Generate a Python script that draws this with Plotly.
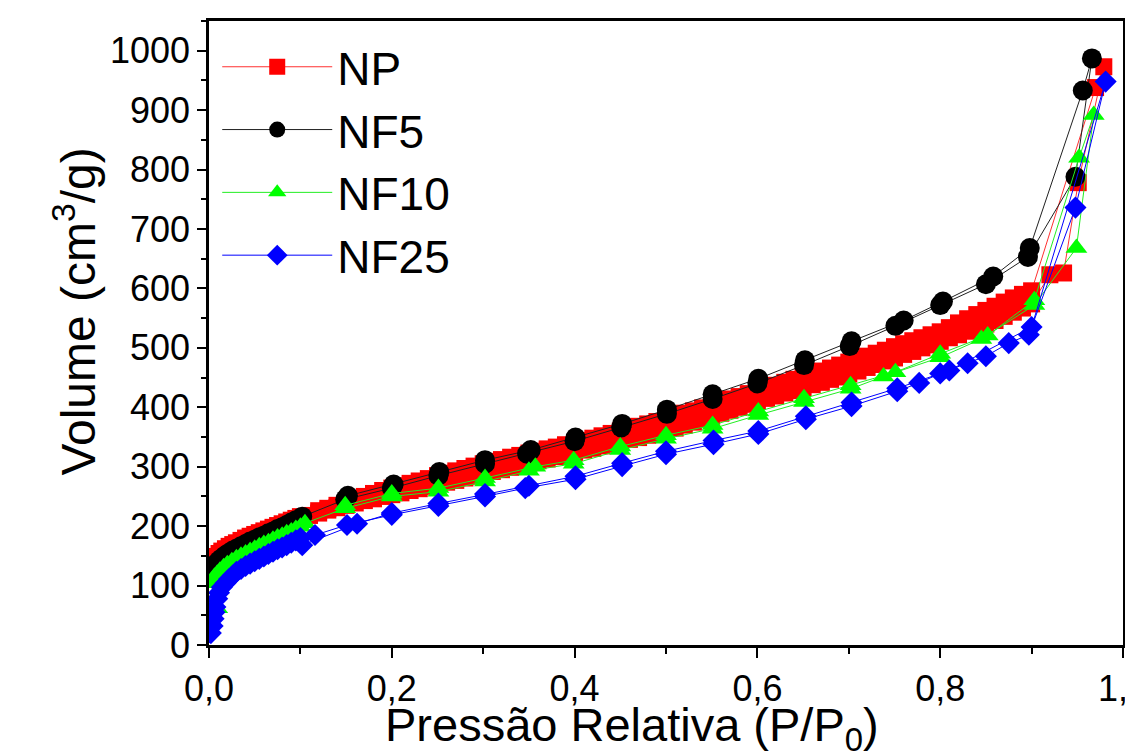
import plotly.graph_objects as go

# N2 adsorption / desorption isotherms (relative pressure P/P0 vs. adsorbed volume, cm3/g)

# NP
np_ads_p = [0.001, 0.003, 0.005, 0.008, 0.011, 0.014, 0.018, 0.022, 0.026, 0.030,
            0.035, 0.040, 0.045, 0.050, 0.055, 0.060, 0.065, 0.070, 0.075, 0.080,
            0.085, 0.090, 0.095, 0.100,
            0.11, 0.12, 0.13, 0.14, 0.15, 0.16, 0.17, 0.18, 0.19, 0.20,
            0.21, 0.22, 0.23, 0.24, 0.25, 0.26, 0.27, 0.28, 0.29, 0.30,
            0.31, 0.32, 0.33, 0.34, 0.35, 0.36, 0.37, 0.38, 0.39, 0.40,
            0.41, 0.42, 0.43, 0.44, 0.45, 0.46, 0.47, 0.48, 0.49, 0.50,
            0.51, 0.52, 0.53, 0.54, 0.55, 0.56, 0.57, 0.58, 0.59, 0.60,
            0.61, 0.62, 0.63, 0.64, 0.65, 0.66, 0.67, 0.68, 0.69, 0.70,
            0.71, 0.72, 0.73, 0.74, 0.75, 0.76, 0.77, 0.78, 0.79, 0.80,
            0.81, 0.82, 0.83, 0.84, 0.85, 0.86, 0.87, 0.88, 0.89, 0.90,
            0.92, 0.935, 0.951, 0.979]
np_ads_v = [128, 137, 143, 149, 154, 158, 162, 166, 169, 172,
            176, 180, 183, 186, 189, 192, 195, 198, 201, 204,
            207, 210, 213, 216,
            218, 222, 227, 231, 235, 239, 243, 246, 250, 253,
            256, 260, 263, 267, 270, 274, 277, 281, 284, 288,
            292, 295, 299, 302, 306, 310, 313, 317, 320, 324,
            328, 331, 335, 338, 342, 346, 349, 353, 356, 360,
            365, 370, 375, 380, 385, 390, 395, 400, 405, 410,
            415, 419, 424, 428, 433, 438, 442, 447, 451, 456,
            461, 467, 472, 478, 483, 489, 494, 500, 505, 511,
            517, 522, 528, 534, 540, 546, 553, 560, 567, 574,
            623, 626, 778, 973]
np_des_p = [0.970,
            0.90, 0.89, 0.88, 0.87, 0.86, 0.85, 0.84, 0.83, 0.82, 0.81,
            0.80, 0.79, 0.78, 0.77, 0.76, 0.75, 0.74, 0.73, 0.72, 0.71,
            0.70, 0.69, 0.68, 0.67, 0.66, 0.65, 0.64, 0.63, 0.62, 0.61,
            0.60, 0.59, 0.58, 0.57, 0.56, 0.55, 0.54, 0.53, 0.52, 0.51,
            0.50, 0.49, 0.48, 0.47, 0.46, 0.45, 0.44, 0.43, 0.42, 0.41,
            0.40, 0.39, 0.38, 0.37, 0.36, 0.35, 0.34, 0.33, 0.32, 0.31,
            0.30, 0.29, 0.28, 0.27, 0.26, 0.25, 0.24, 0.23, 0.22, 0.21,
            0.20, 0.19, 0.18, 0.17, 0.16, 0.15, 0.14, 0.13, 0.12]
np_des_v = [938,
            596, 590, 584, 577, 570, 563, 556, 549, 542, 534,
            527, 522, 517, 512, 507, 502, 496, 491, 486, 481,
            476, 471, 466, 461, 457, 452, 447, 442, 437, 433,
            428, 423, 418, 414, 409, 404, 399, 394, 390, 385,
            380, 376, 372, 368, 364, 360, 356, 352, 348, 344,
            340, 337, 333, 330, 326, 323, 319, 316, 312, 309,
            305, 301, 297, 293, 289, 285, 280, 276, 272, 268,
            264, 260, 255, 250, 245, 240, 235, 230, 226]

# NF5
nf5_ads_p = [0.001, 0.003, 0.005, 0.008, 0.011, 0.014, 0.018, 0.022, 0.026, 0.030,
             0.035, 0.040, 0.045, 0.050, 0.055, 0.060, 0.065, 0.070, 0.075, 0.080,
             0.085, 0.090, 0.095, 0.102,
             0.149, 0.200, 0.251, 0.302, 0.348, 0.400, 0.451, 0.501, 0.551, 0.600,
             0.651, 0.701, 0.751, 0.800, 0.850, 0.896, 0.948, 0.966]
nf5_ads_v = [116, 125, 131, 137, 142, 146, 151, 155, 159, 162,
             166, 170, 174, 177, 181, 184, 188, 191, 195, 198,
             202, 206, 210, 216,
             245, 264, 285, 305, 322, 343, 366, 389, 414, 440,
             471, 503, 537, 572, 607, 653, 788, 987]
nf5_des_p = [0.956, 0.898, 0.858, 0.803, 0.760, 0.703, 0.652, 0.601, 0.551,
             0.501, 0.452, 0.401, 0.352, 0.302, 0.252, 0.202, 0.152]
nf5_des_v = [933, 668, 620, 578, 546, 511, 479, 448, 422,
             396, 372, 349, 328, 311, 291, 270, 251]

# NF10
nf10_ads_p = [0.009, 0.002, 0.004, 0.006, 0.009, 0.012, 0.016, 0.020, 0.025, 0.030,
              0.035, 0.040, 0.045, 0.050, 0.055, 0.060, 0.065, 0.070, 0.075, 0.080,
              0.085, 0.090, 0.095, 0.100, 0.105,
              0.149, 0.200, 0.251, 0.302, 0.350, 0.399, 0.450, 0.500, 0.551, 0.601,
              0.651, 0.702, 0.738, 0.800, 0.845, 0.903, 0.949, 0.968]
nf10_ads_v = [62, 104, 110, 115, 120, 125, 131, 136, 141, 146,
              150, 154, 158, 162, 166, 170, 173, 177, 181, 184,
              188, 191, 195, 199, 205,
              230, 250, 258, 275, 293, 305, 328, 347, 364, 387,
              409, 431, 452, 484, 515, 572, 668, 892]
nf10_des_p = [0.952, 0.903, 0.852, 0.800, 0.751, 0.702, 0.651, 0.601, 0.551,
              0.500, 0.450, 0.399, 0.357, 0.302, 0.251, 0.200, 0.149]
nf10_des_v = [820, 580, 521, 490, 459, 437, 415, 393, 370,
              353, 334, 311, 300, 281, 264, 255, 235]

# NF25
nf25_ads_p = [0.002, 0.004, 0.005, 0.006, 0.007, 0.009, 0.011, 0.014, 0.018, 0.022,
              0.026, 0.030, 0.035, 0.040, 0.045, 0.050, 0.055, 0.060, 0.065, 0.070,
              0.075, 0.080, 0.085, 0.090, 0.095, 0.100,
              0.116, 0.151, 0.200, 0.251, 0.302, 0.346, 0.401, 0.452, 0.500, 0.552,
              0.601, 0.653, 0.703, 0.753, 0.777, 0.800, 0.830, 0.850, 0.875, 0.897,
              0.948, 0.981]
nf25_ads_v = [20, 32, 44, 55, 64, 78, 88, 97, 104, 111,
              117, 123, 128, 133, 137, 141, 145, 149, 153, 157,
              161, 164, 168, 172, 176, 180,
              185, 202, 219, 234, 250, 264, 279, 301, 321, 338,
              355, 380, 402, 427, 441, 457, 474, 486, 508, 522,
              736, 948]
nf25_des_p = [0.900, 0.810, 0.753, 0.703, 0.653, 0.601, 0.552, 0.500,
              0.452, 0.401, 0.350, 0.302, 0.251, 0.200, 0.162, 0.102]
nf25_des_v = [535, 462, 432, 408, 385, 360, 344, 326,
              306, 284, 268, 254, 238, 222, 204, 168]

series = [
    ("NP", np_ads_p, np_ads_v, np_des_p, np_des_v, "#ff0000", "#ff3030", "square", 17),
    ("NF5", nf5_ads_p, nf5_ads_v, nf5_des_p, nf5_des_v, "#000000", "#202020", "circle", 20),
    ("NF10", nf10_ads_p, nf10_ads_v, nf10_des_p, nf10_des_v, "#00ff00", "#22ee22", "triangle-up", 19),
    ("NF25", nf25_ads_p, nf25_ads_v, nf25_des_p, nf25_des_v, "#0000ff", "#0000ff", "diamond", 17),
]

FONT = "Liberation Sans, Arial, sans-serif"

fig = go.Figure()
for name, ap, av, dp, dv, mcol, lcol, sym, size in series:
    fig.add_trace(go.Scatter(
        x=ap + dp, y=av + dv, name=name, mode="lines+markers",
        line=dict(color=lcol, width=1),
        marker=dict(symbol=sym, size=size, color=mcol, line=dict(width=0)),
        legendgroup=name,
    ))

axis_font = dict(family=FONT, size=36, color="black")

fig.update_layout(
    width=1125, height=756,
    margin=dict(l=209, r=2, t=21, b=111),
    paper_bgcolor="white", plot_bgcolor="white",
    separators=",.",
    font=dict(family=FONT, color="black"),
    legend=dict(
        x=0.009, y=0.985, xanchor="left", yanchor="top",
        bgcolor="rgba(0,0,0,0)", borderwidth=0,
        font=dict(family=FONT, size=46, color="black"),
        traceorder="grouped", tracegroupgap=0, itemwidth=110,
    ),
    annotations=[
        dict(text="Pressão Relativa (P/P<sub>0</sub>)", xref="paper", yref="paper",
             x=0.463, y=-0.133, xanchor="center", yanchor="middle", showarrow=False,
             font=dict(family=FONT, size=47, color="black")),
        dict(text="Volume (cm<sup>3</sup>/g)", xref="paper", yref="paper",
             x=-0.147, y=0.534, xanchor="center", yanchor="middle", showarrow=False,
             textangle=-90, font=dict(family=FONT, size=48, color="black")),
    ],
)
fig.update_xaxes(
    range=[0, 1.0], tick0=0, dtick=0.2, tickformat=".1f",
    ticks="outside", ticklen=10, tickwidth=2, tickcolor="black",
    minor=dict(dtick=0.1, ticks="outside", ticklen=6, tickwidth=2, tickcolor="black"),
    showline=True, linewidth=2.5, linecolor="black", mirror=True,
    showgrid=False, zeroline=False, automargin=False, ticklabeloverflow="allow",
    tickfont=axis_font,
)
fig.update_yaxes(
    range=[0, 1050], tick0=0, dtick=100,
    ticks="outside", ticklen=9, tickwidth=2, tickcolor="black",
    minor=dict(dtick=50, ticks="outside", ticklen=5, tickwidth=2, tickcolor="black"),
    showline=True, linewidth=2.5, linecolor="black", mirror=True,
    showgrid=False, zeroline=False, automargin=False,
    tickfont=axis_font,
)

fig.write_html("out.html")
